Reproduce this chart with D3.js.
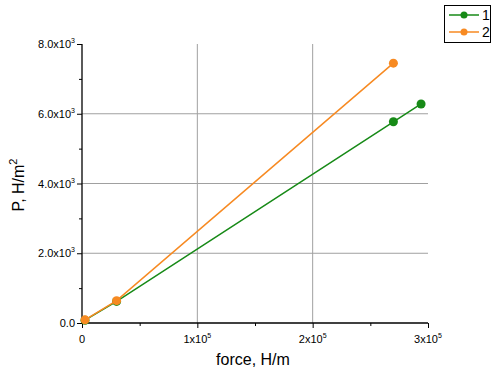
<!DOCTYPE html>
<html>
<head>
<meta charset="utf-8">
<script src="https://cdn.jsdelivr.net/npm/d3@7"></script>
<style>
  body { margin: 0; background: #fff; }
  svg { font-family: "Liberation Sans", Arial, sans-serif; }
</style>
</head>
<body>
<div id="chart"></div>
<script>
// series data (force H/m, P H/m^2)
var force1 = [2600, 30000, 270000, 294000];
var p1 = [80, 620, 5770, 6280];
var force2 = [2600, 30000, 270000];
var p2 = [90, 640, 7450];
var seriesNames = ["1", "2"];
var seriesColors = ["#178a17", "#f78a22"];

var xMajor = [0, 100000, 200000, 300000];
var xLabels = [["0", ""], ["1x10", "5"], ["2x10", "5"], ["3x10", "5"]];
var yMajor = [0, 2000, 4000, 6000, 8000];
var yLabels = [["0.0", ""], ["2.0x10", "3"], ["4.0x10", "3"], ["6.0x10", "3"], ["8.0x10", "3"]];

var width = 494, height = 373;
var plotL = 82, plotR = 428, plotT = 44, plotB = 323;

var svg = d3.select("#chart").append("svg")
  .attr("width", width)
  .attr("height", height);

var x = d3.scaleLinear().domain([0, 300000]).range([plotL, plotR]);
var y = d3.scaleLinear().domain([0, 8000]).range([plotB, plotT]);

// grid lines
svg.append("g").selectAll("line")
  .data([100000, 200000])
  .join("line")
  .attr("x1", d => x(d)).attr("x2", d => x(d))
  .attr("y1", plotT).attr("y2", plotB)
  .attr("stroke", "#a0a0a0").attr("stroke-width", 1);
svg.append("g").selectAll("line")
  .data([2000, 4000, 6000])
  .join("line")
  .attr("x1", plotL).attr("x2", plotR)
  .attr("y1", d => y(d)).attr("y2", d => y(d))
  .attr("stroke", "#a0a0a0").attr("stroke-width", 1);

// axes
var xAxis = svg.append("g").attr("transform", "translate(0," + plotB + ")");
xAxis.call(d3.axisBottom(x).tickValues(d3.range(0, 300001, 50000)).tickSize(3).tickFormat(""));
xAxis.selectAll(".tick line").attr("y2", d => d % 100000 === 0 ? 5 : 3);
xAxis.select(".domain").attr("d", "M" + plotL + ",0H" + plotR);

var yAxis = svg.append("g").attr("transform", "translate(" + plotL + ",0)");
yAxis.call(d3.axisLeft(y).tickValues(d3.range(0, 8001, 1000)).tickSize(3).tickFormat(""));
yAxis.selectAll(".tick line").attr("x2", d => d % 2000 === 0 ? -5 : -3);
yAxis.select(".domain").attr("d", "M0," + plotB + "V" + plotT);
svg.selectAll(".domain").attr("stroke", "#000").attr("stroke-width", 1.3);

// tick labels with superscripts
var xt = svg.append("g").selectAll("text")
  .data(xMajor)
  .join("text")
  .attr("x", d => x(d))
  .attr("y", plotB + 20)
  .attr("text-anchor", "middle")
  .attr("font-size", 11)
  .attr("fill", "#000");
xt.append("tspan").text((d, i) => xLabels[i][0]);
xt.append("tspan").attr("dy", -5).attr("font-size", 7).text((d, i) => xLabels[i][1]);

var yt = svg.append("g").selectAll("text")
  .data(yMajor)
  .join("text")
  .attr("x", plotL - 7)
  .attr("y", d => y(d) + 4)
  .attr("text-anchor", "end")
  .attr("font-size", 11)
  .attr("fill", "#000");
yt.append("tspan").text((d, i) => yLabels[i][0]);
yt.append("tspan").attr("dy", -5).attr("font-size", 7).text((d, i) => yLabels[i][1]);

// axis titles
svg.append("text")
  .attr("x", 253).attr("y", 365)
  .attr("text-anchor", "middle")
  .attr("font-size", 16)
  .text("force, H/m");

var yTitle = svg.append("text")
  .attr("transform", "translate(24,185) rotate(-90)")
  .attr("text-anchor", "middle")
  .attr("font-size", 16);
yTitle.append("tspan").text("P, H/m");
yTitle.append("tspan").attr("dy", -7).attr("font-size", 11).text("2");

// series
var series = [
  force1.map((f, i) => [f, p1[i]]),
  force2.map((f, i) => [f, p2[i]])
];
var line = d3.line().x(d => x(d[0])).y(d => y(d[1]));

series.forEach(function(s, k) {
  svg.append("path")
    .datum(s)
    .attr("d", line)
    .attr("fill", "none")
    .attr("stroke", seriesColors[k])
    .attr("stroke-width", 1.5);
  svg.append("g").selectAll("circle")
    .data(s)
    .join("circle")
    .attr("cx", d => x(d[0]))
    .attr("cy", d => y(d[1]))
    .attr("r", 4.5)
    .attr("fill", seriesColors[k]);
});

// legend
var lg = svg.append("g");
lg.append("rect")
  .attr("x", 444.5).attr("y", 5.5)
  .attr("width", 46).attr("height", 37)
  .attr("fill", "#fff").attr("stroke", "#000").attr("stroke-width", 1);
seriesNames.forEach(function(n, k) {
  var ly = 15 + k * 17;
  lg.append("line")
    .attr("x1", 449).attr("x2", 479)
    .attr("y1", ly).attr("y2", ly)
    .attr("stroke", seriesColors[k]).attr("stroke-width", 1.5);
  lg.append("circle")
    .attr("cx", 464).attr("cy", ly).attr("r", 3.5)
    .attr("fill", seriesColors[k]);
  lg.append("text")
    .attr("x", 482).attr("y", ly + 5)
    .attr("font-size", 14)
    .text(n);
});
</script>
</body>
</html>
